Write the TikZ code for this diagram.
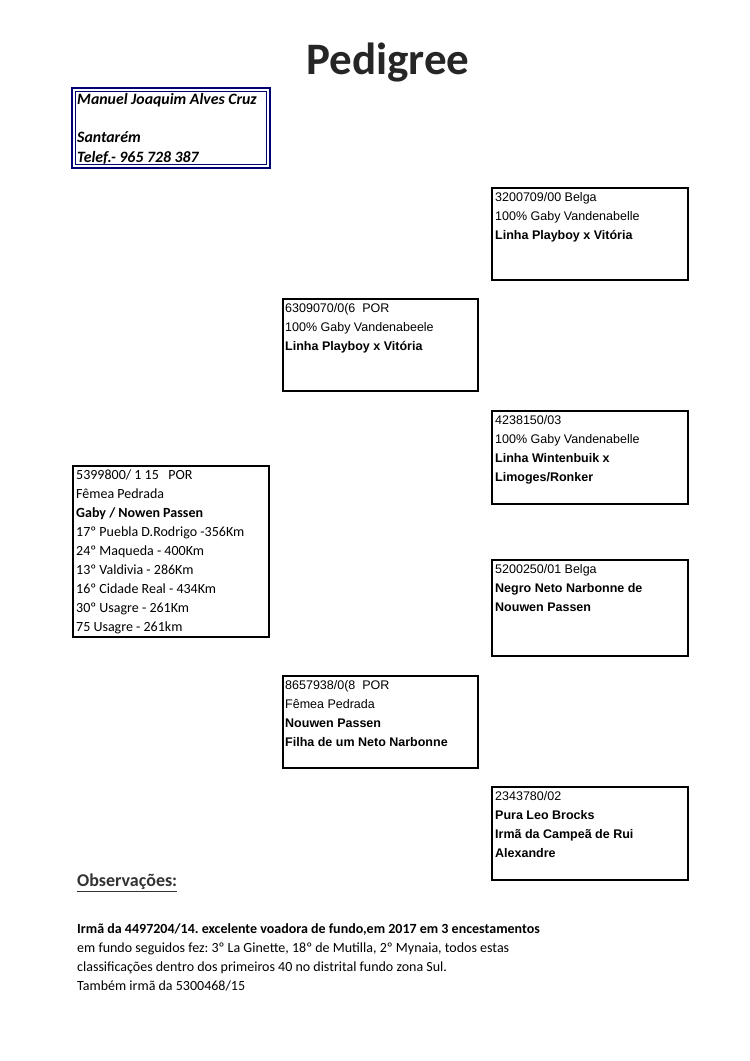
\documentclass[tikz,border=0pt]{standalone}
\usepackage{fontspec}
\setmainfont{Liberation Sans}
\newfontfamily\carlitofont{Carlito}
\frenchspacing
\begin{document}
\begin{tikzpicture}[x=1pt,y=-1pt,
  pbox/.style={draw=black,line width=2.2pt},
  atext/.style={anchor=north west,inner sep=0pt,align=left,font=\fontsize{12.5}{19}\selectfont},
  ctext/.style={anchor=north west,inner sep=0pt,align=left,font=\carlitofont\fontsize{14}{19}\selectfont}]
\useasboundingbox (0,0) rectangle (750,1061);
\node[anchor=center,inner sep=0pt,font=\carlitofont\bfseries\fontsize{45}{48}\selectfont,text=black!85] (title) at (388,63) {Pedigree};
% owner box
\draw[draw=blue!45!black,line width=1.2pt] (72,88) rectangle (270,168);
\draw[draw=blue!45!black,line width=1.2pt] (75.5,91.5) rectangle (266.5,164.5);
\node[ctext,font=\carlitofont\bfseries\itshape\fontsize{15.8}{19.3}\selectfont] (owner) at (77,93) {Manuel Joaquim Alves Cruz\\[0pt]\\Santarém\\Telef.- 965 728 387};
% boxes
\draw[pbox] (492,188) rectangle (688,280);
\node[atext] (a) at (495,192) {3200709/00 Belga\\100\% Gaby Vandenabelle\\\textbf{Linha Playboy x Vitória}};
\draw[pbox] (283,299) rectangle (478,391);
\node[atext] (b) at (285,303) {6309070/0(6\ \ POR\\100\% Gaby Vandenabeele\\\textbf{Linha Playboy x Vitória}};
\draw[pbox] (492,411) rectangle (688,504);
\node[atext] (c) at (495,415) {4238150/03\\100\% Gaby Vandenabelle\\\textbf{Linha Wintenbuik x}\\\textbf{Limoges/Ronker}};
\draw[pbox] (73,466) rectangle (269,637);
\node[ctext] (d) at (76,470) {5399800/ 1 15\ \ \ POR\\Fêmea Pedrada\\\textbf{Gaby / Nowen Passen}\\17º Puebla D.Rodrigo -356Km\\24º Maqueda - 400Km\\13º Valdivia - 286Km\\16º Cidade Real - 434Km\\30º Usagre - 261Km\\75 Usagre - 261km};
\draw[pbox] (492,560) rectangle (688,656);
\node[atext] (e) at (495,564) {5200250/01 Belga\\\textbf{Negro Neto Narbonne de}\\\textbf{Nouwen Passen}};
\draw[pbox] (283,676) rectangle (478,768);
\node[atext] (f) at (285,680) {8657938/0(8\ \ POR\\Fêmea Pedrada\\\textbf{Nouwen Passen}\\\textbf{Filha de um Neto Narbonne}};
\draw[pbox] (492,787) rectangle (688,880);
\node[atext] (g) at (495,791) {2343780/02\\\textbf{Pura Leo Brocks}\\\textbf{Irmã da Campeã de Rui}\\\textbf{Alexandre}};
% observations
\node[anchor=north west,inner sep=0pt,font=\carlitofont\bfseries\fontsize{18}{19}\selectfont,text=black!80] (obs) at (77,874) {\underline{Observações:}};
\node[ctext] (obstext) at (77,923) {\textbf{Irmã da 4497204/14. excelente voadora de fundo,em 2017 em 3 encestamentos}\\em fundo seguidos fez: 3º La Ginette, 18º de Mutilla, 2º Mynaia, todos estas\\classificações dentro dos primeiros 40 no distrital fundo zona Sul.\\Também irmã da 5300468/15};
\end{tikzpicture}
\end{document}
